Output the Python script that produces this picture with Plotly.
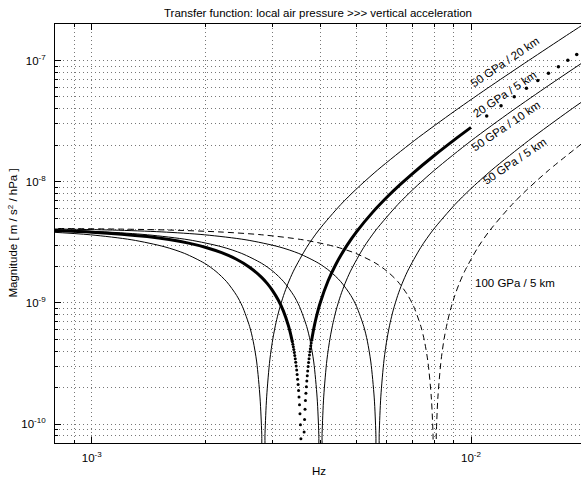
import plotly.graph_objects as go

# ---------------- data ----------------
# 50 GPa / 20 km  (thin solid)
freq_50_20 = [7.655e-4, 9.923e-4, 1.276e-3, 1.559e-3, 1.758e-3, 1.985e-3, 2.126e-3, 2.268e-3, 2.410e-3,
              2.495e-3, 2.608e-3, 2.665e-3, 2.722e-3, 2.778e-3, 2.807e-3, 2.821e-3, 2.849e-3, 2.863e-3,
              2.892e-3, 2.948e-3, 3.005e-3, 3.062e-3, 3.119e-3, 3.204e-3, 3.289e-3, 3.402e-3, 3.686e-3,
              3.969e-3, 4.536e-3, 4.961e-3, 5.670e-3, 7.088e-3, 9.072e-3, 1.134e-2, 1.418e-2, 1.786e-2, 1.985e-2]
mag_50_20 = [3.857e-9, 3.650e-9, 3.318e-9, 2.902e-9, 2.561e-9, 2.122e-9, 1.820e-9, 1.498e-9, 1.154e-9,
             9.385e-10, 6.390e-10, 4.842e-10, 3.261e-10, 1.647e-10, 8.278e-11, 4.150e-11, 4.170e-11, 8.362e-11,
             1.681e-10, 3.395e-10, 5.142e-10, 6.922e-10, 8.736e-10, 1.152e-9, 1.438e-9, 1.830e-9, 2.870e-9,
             3.994e-9, 6.490e-9, 8.580e-9, 1.248e-8, 2.184e-8, 3.844e-8, 6.240e-8, 9.984e-8, 1.610e-7, 1.997e-7]

# 50 GPa / 10 km  (thin solid)
freq_50_10 = [7.617e-4, 1.082e-3, 1.403e-3, 1.804e-3, 2.205e-3, 2.486e-3, 2.806e-3, 3.007e-3, 3.207e-3,
              3.408e-3, 3.528e-3, 3.688e-3, 3.768e-3, 3.849e-3, 3.929e-3, 3.969e-3, 3.989e-3, 4.029e-3,
              4.049e-3, 4.089e-3, 4.169e-3, 4.250e-3, 4.330e-3, 4.410e-3, 4.530e-3, 4.650e-3, 4.811e-3,
              5.212e-3, 5.613e-3, 6.414e-3, 7.016e-3, 8.018e-3, 1.002e-2, 1.283e-2, 1.604e-2, 2.005e-2]
mag_50_10 = [4.010e-9, 3.857e-9, 3.650e-9, 3.318e-9, 2.902e-9, 2.561e-9, 2.122e-9, 1.820e-9, 1.498e-9,
             1.154e-9, 9.385e-10, 6.390e-10, 4.842e-10, 3.261e-10, 1.647e-10, 8.278e-11, 4.150e-11, 4.170e-11,
             8.362e-11, 1.681e-10, 3.395e-10, 5.142e-10, 6.922e-10, 8.736e-10, 1.152e-9, 1.438e-9, 1.830e-9,
             2.870e-9, 3.994e-9, 6.490e-9, 8.580e-9, 1.248e-8, 2.184e-8, 3.844e-8, 6.240e-8, 9.984e-8]

# 50 GPa / 5 km  (thin solid)
freq_50_5 = [7.371e-4, 1.134e-3, 1.531e-3, 1.985e-3, 2.552e-3, 3.119e-3, 3.515e-3, 3.969e-3, 4.253e-3,
             4.536e-3, 4.820e-3, 4.990e-3, 5.216e-3, 5.330e-3, 5.443e-3, 5.557e-3, 5.613e-3, 5.642e-3,
             5.698e-3, 5.727e-3, 5.783e-3, 5.897e-3, 6.010e-3, 6.124e-3, 6.237e-3, 6.407e-3, 6.577e-3,
             6.804e-3, 7.371e-3, 7.938e-3, 9.072e-3, 9.923e-3, 1.134e-2, 1.418e-2, 1.814e-2, 2.041e-2]
mag_50_5 = [4.090e-9, 3.994e-9, 3.857e-9, 3.650e-9, 3.318e-9, 2.902e-9, 2.561e-9, 2.122e-9, 1.820e-9,
            1.498e-9, 1.154e-9, 9.385e-10, 6.390e-10, 4.842e-10, 3.261e-10, 1.647e-10, 8.278e-11, 4.150e-11,
            4.170e-11, 8.362e-11, 1.681e-10, 3.395e-10, 5.142e-10, 6.922e-10, 8.736e-10, 1.152e-9, 1.438e-9,
            1.830e-9, 2.870e-9, 3.994e-9, 6.490e-9, 8.580e-9, 1.248e-8, 2.184e-8, 3.844e-8, 4.975e-8]

# 100 GPa / 5 km  (thin dashed)
freq_100_5 = [7.218e-4, 1.203e-3, 1.604e-3, 2.165e-3, 2.807e-3, 3.609e-3, 4.411e-3, 4.972e-3, 5.614e-3,
              6.015e-3, 6.416e-3, 6.817e-3, 7.058e-3, 7.378e-3, 7.539e-3, 7.699e-3, 7.860e-3, 7.940e-3,
              7.980e-3, 8.060e-3, 8.100e-3, 8.180e-3, 8.341e-3, 8.501e-3, 8.662e-3, 8.822e-3, 9.063e-3,
              9.303e-3, 9.624e-3, 1.0426e-2, 1.1228e-2, 1.2832e-2, 1.4035e-2, 1.604e-2, 2.005e-2]
mag_100_5 = [4.126e-9, 4.066e-9, 3.994e-9, 3.857e-9, 3.650e-9, 3.318e-9, 2.902e-9, 2.561e-9, 2.122e-9,
             1.820e-9, 1.498e-9, 1.154e-9, 9.385e-10, 6.390e-10, 4.842e-10, 3.261e-10, 1.647e-10, 8.278e-11,
             4.150e-11, 4.170e-11, 8.362e-11, 1.681e-10, 3.395e-10, 5.142e-10, 6.922e-10, 8.736e-10, 1.152e-9,
             1.438e-9, 1.830e-9, 2.870e-9, 3.994e-9, 6.490e-9, 8.580e-9, 1.248e-8, 2.184e-8]

# 20 GPa / 5 km  (thick, drawn as dense dots)
freq_20_5_lo = [7.9e-4, 1.0e-3, 1.2e-3, 1.4e-3, 1.6e-3, 1.8e-3, 2.0e-3, 2.2e-3, 2.4e-3, 2.6e-3, 2.8e-3,
                2.9e-3, 3.0e-3, 3.1e-3, 3.2e-3, 3.3e-3, 3.34e-3, 3.38e-3]
mag_20_5_lo = [3.959e-9, 3.838e-9, 3.696e-9, 3.528e-9, 3.335e-9, 3.116e-9, 2.871e-9, 2.600e-9, 2.304e-9,
               1.982e-9, 1.634e-9, 1.450e-9, 1.260e-9, 1.063e-9, 8.603e-10, 6.508e-10, 5.652e-10, 4.786e-10]
freq_20_5_dots_lo = [3.38e-3, 3.39e-3, 3.40e-3, 3.41e-3, 3.42e-3, 3.43e-3, 3.44e-3, 3.45e-3, 3.46e-3, 3.47e-3,
                     3.48e-3, 3.49e-3, 3.50e-3, 3.51e-3, 3.52e-3, 3.53e-3, 3.54e-3, 3.55e-3, 3.56e-3]
mag_20_5_dots_lo = [4.786e-10, 4.568e-10, 4.349e-10, 4.130e-10, 3.910e-10, 3.689e-10, 3.468e-10, 3.245e-10,
                    3.023e-10, 2.799e-10, 2.576e-10, 2.351e-10, 2.126e-10, 1.900e-10, 1.673e-10, 1.446e-10,
                    1.218e-10, 9.898e-11, 7.606e-11]
freq_20_5_dots_hi = [3.63e-3, 3.64e-3, 3.65e-3, 3.66e-3, 3.67e-3, 3.68e-3, 3.69e-3, 3.70e-3, 3.71e-3, 3.72e-3,
                     3.73e-3, 3.74e-3, 3.75e-3, 3.76e-3, 3.77e-3, 3.78e-3, 3.79e-3, 3.80e-3]
mag_20_5_dots_hi = [8.612e-11, 1.096e-10, 1.330e-10, 1.566e-10, 1.802e-10, 2.039e-10, 2.277e-10, 2.515e-10,
                    2.753e-10, 2.993e-10, 3.233e-10, 3.474e-10, 3.715e-10, 3.957e-10, 4.200e-10, 4.443e-10,
                    4.687e-10, 4.931e-10]
freq_20_5_hi = [3.80e-3, 3.85e-3, 3.9e-3, 4.0e-3, 4.2e-3, 4.4e-3, 4.7e-3, 5.0e-3, 5.5e-3, 6.0e-3, 6.5e-3,
                7.0e-3, 8.0e-3, 9.0e-3, 1.0e-2]
mag_20_5_hi = [4.931e-10, 6.164e-10, 7.413e-10, 9.958e-10, 1.524e-9, 2.079e-9, 2.958e-9, 3.896e-9, 5.588e-9,
               7.441e-9, 9.455e-9, 1.163e-8, 1.646e-8, 2.194e-8, 2.806e-8]
freq_20_5_sparse = [1.1e-2, 1.2e-2, 1.3e-2, 1.4e-2, 1.5e-2, 1.6e-2, 1.7e-2, 1.8e-2, 1.9e-2]
mag_20_5_sparse = [3.483e-8, 4.224e-8, 5.030e-8, 5.900e-8, 6.834e-8, 7.833e-8, 8.897e-8, 1.0025e-7, 1.1217e-7]

labels = ["50 GPa / 20 km", "20 GPa / 5 km", "50 GPa / 10 km", "50 GPa / 5 km", "100 GPa / 5 km"]

x_major = [1e-3, 1e-2]
x_major_text = ["10<sup>-3</sup>", "10<sup>-2</sup>"]
x_minor = [8e-4, 9e-4, 2e-3, 3e-3, 4e-3, 5e-3, 6e-3, 7e-3, 8e-3, 9e-3]
y_major = [1e-10, 1e-9, 1e-8, 1e-7]
y_major_text = ["10<sup>-10</sup>", "10<sup>-9</sup>", "10<sup>-8</sup>", "10<sup>-7</sup>"]
y_minor = [8e-11, 9e-11,
           2e-10, 3e-10, 4e-10, 5e-10, 6e-10, 7e-10, 8e-10, 9e-10,
           2e-9, 3e-9, 4e-9, 5e-9, 6e-9, 7e-9, 8e-9, 9e-9,
           2e-8, 3e-8, 4e-8, 5e-8, 6e-8, 7e-8, 8e-8, 9e-8]

# ---------------- figure ----------------
FONT = "Liberation Sans, Arial, Helvetica, sans-serif"
FS = 11.5
thin = dict(color="black", width=1, shape="spline", smoothing=0.8)

fig = go.Figure()
fig.add_trace(go.Scatter(x=freq_50_20, y=mag_50_20, mode="lines", line=thin))
fig.add_trace(go.Scatter(x=freq_50_10, y=mag_50_10, mode="lines", line=thin))
fig.add_trace(go.Scatter(x=freq_50_5, y=mag_50_5, mode="lines", line=thin))
fig.add_trace(go.Scatter(x=freq_100_5, y=mag_100_5, mode="lines",
                         line=dict(color="black", width=1, dash="6px,4px", shape="spline", smoothing=0.8)))
thick = dict(color="black", width=3, shape="spline", smoothing=0.8)
fig.add_trace(go.Scatter(x=freq_20_5_lo, y=mag_20_5_lo, mode="lines", line=thick))
fig.add_trace(go.Scatter(x=freq_20_5_hi, y=mag_20_5_hi, mode="lines", line=thick))
fig.add_trace(go.Scatter(x=freq_20_5_dots_lo, y=mag_20_5_dots_lo, mode="markers",
                         marker=dict(color="black", size=3)))
fig.add_trace(go.Scatter(x=freq_20_5_dots_hi, y=mag_20_5_dots_hi, mode="markers",
                         marker=dict(color="black", size=3)))
fig.add_trace(go.Scatter(x=freq_20_5_sparse, y=mag_20_5_sparse, mode="markers",
                         marker=dict(color="black", size=3.5)))

grid_style = dict(showgrid=True, gridcolor="#777", griddash="1px,3px", gridwidth=1)

L, R, T, B = 55, 0, 24, 39
W, H = 581, 482

def px(x):
    return (x - L) / (W - L - R)

def py(y):
    return (H - B - y) / (H - T - B)

annotations = [
    dict(text=labels[0], x=px(505), y=py(62), textangle=-34),
    dict(text=labels[1], x=px(505), y=py(94), textangle=-34),
    dict(text=labels[2], x=px(506), y=py(126), textangle=-34),
    dict(text=labels[3], x=px(515), y=py(161), textangle=-34),
]
anns = []
for a in annotations:
    a.update(xref="paper", yref="paper", showarrow=False, xanchor="center", yanchor="middle",
             font=dict(family=FONT, size=FS, color="black"))
    anns.append(a)
anns.append(dict(text=labels[4], x=px(473), y=py(283), xref="paper", yref="paper", showarrow=False,
                 xanchor="left", yanchor="middle", font=dict(family=FONT, size=FS, color="black")))
anns.append(dict(text="Magnitude [ m / s<sup>2</sup> / hPa ]", x=px(12), y=py(233.5), xref="paper",
                 yref="paper", showarrow=False, textangle=-90, xanchor="center", yanchor="middle",
                 font=dict(family=FONT, size=FS, color="black")))
anns.append(dict(text="Hz", x=px(319), y=py(471), xref="paper", yref="paper", showarrow=False,
                 xanchor="center", yanchor="middle", font=dict(family=FONT, size=FS, color="black")))

fig.update_layout(
    width=W, height=H,
    margin=dict(l=L, r=R, t=T, b=B),
    paper_bgcolor="white", plot_bgcolor="white",
    showlegend=False,
    font=dict(family=FONT, size=FS, color="black"),
    title=dict(text="Transfer function: local air pressure >>> vertical acceleration",
               x=0.5, xref="paper", xanchor="center", y=1 - 13 / H, yref="container", yanchor="middle",
               font=dict(family=FONT, size=FS, color="black")),
    annotations=anns,
)
fig.update_xaxes(
    type="log", range=[-3.0969, -1.7100],
    tickmode="array", tickvals=x_major, ticktext=x_major_text,
    ticks="inside", ticklen=6, tickcolor="black", tickwidth=1,
    showline=True, linecolor="black", linewidth=1, mirror="ticks",
    zeroline=False, ticklabelstandoff=4,
    tickfont=dict(family=FONT, size=FS, color="black"),
    minor=dict(tickmode="array", tickvals=x_minor, ticks="inside", ticklen=3, tickcolor="black",
               showgrid=True, gridcolor="#777", griddash="1px,3px", gridwidth=1),
    **grid_style,
)
fig.update_yaxes(
    type="log", range=[-10.1549, -6.699],
    tickmode="array", tickvals=y_major, ticktext=y_major_text,
    ticks="inside", ticklen=6, tickcolor="black", tickwidth=1,
    showline=True, linecolor="black", linewidth=1, mirror=False,
    zeroline=False, ticklabelstandoff=6,
    tickfont=dict(family=FONT, size=FS, color="black"),
    minor=dict(tickmode="array", tickvals=y_minor, ticks="inside", ticklen=3, tickcolor="black",
               showgrid=True, gridcolor="#777", griddash="1px,3px", gridwidth=1),
    **grid_style,
)

fig.write_html("out.html")
